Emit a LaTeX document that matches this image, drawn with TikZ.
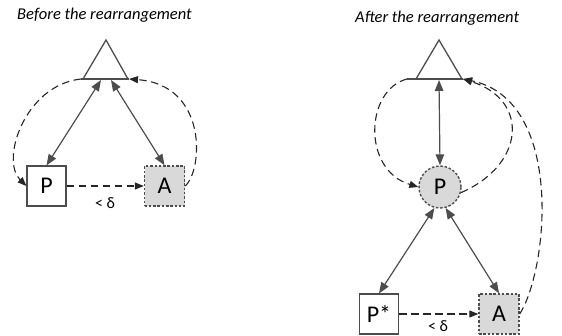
\documentclass[tikz,border=0pt]{standalone}
\usepackage{fontspec}
\setmainfont{Carlito}
\usetikzlibrary{arrows.meta}
\definecolor{linegray}{HTML}{4D4D4D}
\definecolor{fillgray}{HTML}{D9D9D9}
\tikzset{
  every node/.style={inner sep=0pt},
  plainbox/.style={draw=linegray, line width=1.1pt, fill=white, minimum width=39pt, minimum height=40pt, font=\fontsize{24}{24}\selectfont},
  shadedbox/.style={draw=linegray, line width=1.4pt, dash pattern=on 2.5pt off 1.8pt, fill=fillgray, minimum width=40pt, minimum height=40pt, font=\fontsize{24}{24}\selectfont},
  shadedcirc/.style={circle, draw=linegray, line width=1.4pt, dash pattern=on 2.5pt off 1.8pt, fill=fillgray, minimum size=42pt, font=\fontsize{24}{24}\selectfont},
  title/.style={font=\fontsize{16.5}{16.5}\selectfont\itshape, anchor=west},
  small/.style={font=\fontsize{16}{16}\selectfont},
  link/.style={draw=linegray, line width=1.2pt, {Triangle[length=11pt,width=8.5pt]}-{Triangle[length=11pt,width=8.5pt]}},
  flow/.style={draw=black!85, line width=1.1pt, dash pattern=on 7.5pt off 4.5pt, -{Triangle[length=9pt,width=7pt]}},
  tri/.style={draw=linegray, line width=1.3pt}
}
\begin{document}
\begin{tikzpicture}[x=1pt,y=-1pt]
\useasboundingbox (0,0) rectangle (562,335);

% ---------- left: before ----------
\node[title] (t1) at (17,15) {Before the rearrangement};
\draw[tri] (83,79) -- (106,40) -- (128,79);
\draw[tri] (81,79) -- (129,79);
\coordinate (L1) at (81,79);
\coordinate (R1) at (129,79);
\coordinate (B1a) at (101,80);
\coordinate (B1b) at (111,80);

\node[plainbox] (P1) at (46.5,186) {P};
\node[shadedbox] (A1) at (164.5,186) {A};

\draw[link] (B1a) -- (P1.north);
\draw[link] (B1b) -- (A1.north);
\draw[flow] (P1.east) -- (A1.west);
\node[small] (d1) at (105,203) {< δ};

\draw[flow] (L1) .. controls (25,85) and (0,160) .. (P1.west);
\draw[flow] (A1.east) .. controls (203,170) and (208,85) .. (R1);

% ---------- right: after ----------
\node[title] (t2) at (355,18) {After the rearrangement};
\draw[tri] (416,79) -- (439,40) -- (462,79);
\draw[tri] (407,79) -- (463,79);
\coordinate (L2) at (407,79);
\coordinate (R2) at (463,79);
\coordinate (B2) at (439,80);

\node[shadedcirc] (C2) at (440,187) {P};
\node[plainbox] (P2) at (379,314) {P*};
\node[shadedbox] (A2) at (499,314) {A};

\draw[link] (B2) -- (C2.north);
\draw[link] (C2.-105) -- (P2.north);
\draw[link] (C2.-75) -- (A2.north);
\draw[flow] (P2.east) -- (A2.west);
\node[small] (d2) at (438,326) {< δ};

\draw[flow] (L2) .. controls (365,90) and (362,170) .. (C2.west);
\draw[flow] (C2.-15) .. controls (525,165) and (530,100) .. (R2);
\draw[flow] (A2.east) .. controls (548,270) and (565,100) .. (R2);
\end{tikzpicture}
\end{document}
